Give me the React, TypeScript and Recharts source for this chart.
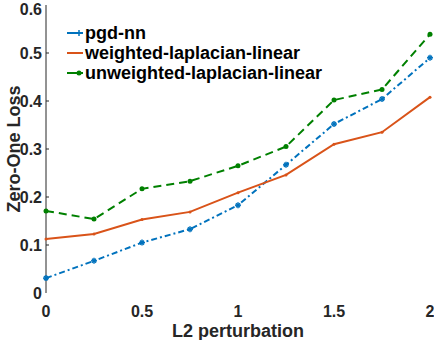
import React from "react";
import { LineChart, Line, XAxis, YAxis } from "recharts";

const perturbation = [0, 0.25, 0.5, 0.75, 1, 1.25, 1.5, 1.75, 2];
const pgdNN = [0.031, 0.067, 0.105, 0.133, 0.183, 0.267, 0.352, 0.404, 0.49];
const weightedLinear = [0.1125, 0.123, 0.153, 0.169, 0.209, 0.246, 0.31, 0.335, 0.408];
const unweightedLinear = [0.171, 0.154, 0.217, 0.233, 0.265, 0.305, 0.402, 0.424, 0.539];
const xTicks = [0, 0.5, 1, 1.5, 2];
const yTicks = [0, 0.1, 0.2, 0.3, 0.4, 0.5, 0.6];

const seriesNames = ["pgd-nn", "weighted-laplacian-linear", "unweighted-laplacian-linear"];
const colors = ["#0072BD", "#D95319", "#008000"];

const data = perturbation.map((x, i) => ({
  x,
  pgd: pgdNN[i],
  weighted: weightedLinear[i],
  unweighted: unweightedLinear[i],
}));

const FONT = "'Liberation Sans', Arial, Helvetica, sans-serif";
const TEXT = "#262626";
const Y_TICK_GAP = 4;

const StarDot = (props: any) => {
  const { cx, cy, stroke } = props;
  if (cx == null || cy == null) return null;
  return (
    <g stroke={stroke} strokeWidth={1.5}>
      <line x1={cx - 3} y1={cy} x2={cx + 3} y2={cy} />
      <line x1={cx} y1={cy - 3} x2={cx} y2={cy + 3} />
      <line x1={cx - 2} y1={cy - 2} x2={cx + 2} y2={cy + 2} />
      <line x1={cx - 2} y1={cy + 2} x2={cx + 2} y2={cy - 2} />
    </g>
  );
};

const SmallDot = (props: any) => {
  const { cx, cy, stroke } = props;
  if (cx == null || cy == null) return null;
  return <circle cx={cx} cy={cy} r={2.5} fill={stroke} stroke="none" />;
};

const TinyDot = (props: any) => {
  const { cx, cy, stroke } = props;
  if (cx == null || cy == null) return null;
  return <circle cx={cx} cy={cy} r={1.5} fill={stroke} stroke="none" />;
};

const YTick = (props: any) => {
  const { x, y, payload } = props;
  const v = payload.value as number;
  const axisX = x + Y_TICK_GAP;
  return (
    <g>
      {v > 0 && v < 0.6 && (
        <line x1={axisX} y1={y} x2={axisX + 3} y2={y} stroke={TEXT} strokeWidth={1} />
      )}
      <text
        x={x}
        y={y}
        dy="0.355em"
        textAnchor="end"
        fill={TEXT}
        fontSize={16}
        fontWeight="bold"
        fontFamily={FONT}
      >
        {v === 0 ? "0" : v.toFixed(1)}
      </text>
    </g>
  );
};

const LegendBox = () => (
  <div
    style={{
      position: "absolute",
      left: 66,
      top: 23,
      fontFamily: FONT,
      fontWeight: "bold",
      fontSize: 18,
      color: "#000",
      whiteSpace: "nowrap",
    }}
  >
    {seriesNames.map((n, i) => (
      <div key={n} style={{ display: "flex", alignItems: "center", height: 20 }}>
        <svg width={19} height={10}>
          <line x1={1} y1={5} x2={17} y2={5} stroke={colors[i]} strokeWidth={2} />
          {i === 0 && <line x1={13} y1={2} x2={13} y2={8} stroke={colors[i]} strokeWidth={1.5} />}
          {i === 2 && <circle cx={13} cy={5} r={2.5} fill={colors[i]} />}
        </svg>
        <span style={{ lineHeight: "20px" }}>{n}</span>
      </div>
    ))}
  </div>
);

export default function App() {
  return (
    <div style={{ position: "absolute", left: 0, top: 0, width: 434, height: 340, background: "#fff" }}>
      <LineChart
        width={434}
        height={340}
        data={data}
        margin={{ top: 5, right: 4, left: 0, bottom: 0 }}
      >
        <XAxis
          dataKey="x"
          type="number"
          domain={[0, 2]}
          ticks={xTicks}
          axisLine={false}
          tickLine={false}
          tickSize={10}
          tickMargin={3}
          height={47}
          tick={{ fill: TEXT, fontSize: 16, fontWeight: "bold", fontFamily: FONT }}
          label={{
            value: "L2 perturbation",
            position: "insideBottom",
            offset: 3,
            fill: TEXT,
            fontSize: 18,
            fontWeight: "bold",
            fontFamily: FONT,
          }}
        />
        <YAxis
          type="number"
          domain={[0, 0.6]}
          ticks={yTicks}
          width={46}
          axisLine={{ stroke: TEXT, strokeWidth: 1 }}
          tickLine={false}
          tickSize={Y_TICK_GAP}
          tickMargin={0}
          tick={<YTick />}
          label={{
            value: "Zero-One Loss",
            angle: -90,
            position: "insideLeft",
            offset: 14,
            style: { textAnchor: "middle" },
            fill: TEXT,
            fontSize: 18,
            fontWeight: "bold",
            fontFamily: FONT,
          }}
        />
        <Line
          dataKey="pgd"
          name={seriesNames[0]}
          stroke={colors[0]}
          strokeWidth={2}
          strokeDasharray="6 3 2 3"
          dot={<StarDot />}
          isAnimationActive={false}
        />
        <Line
          dataKey="weighted"
          name={seriesNames[1]}
          stroke={colors[1]}
          strokeWidth={2}
          dot={<TinyDot />}
          isAnimationActive={false}
        />
        <Line
          dataKey="unweighted"
          name={seriesNames[2]}
          stroke={colors[2]}
          strokeWidth={2}
          strokeDasharray="8 5"
          dot={<SmallDot />}
          isAnimationActive={false}
        />
      </LineChart>
      <LegendBox />
    </div>
  );
}
